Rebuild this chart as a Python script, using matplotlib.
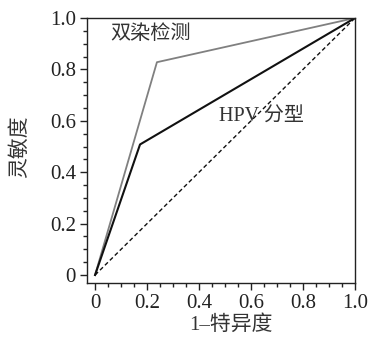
import matplotlib
matplotlib.use("Agg")
import matplotlib.pyplot as plt
from matplotlib.ticker import MultipleLocator, FixedLocator

plt.rcParams['font.family'] = ['Liberation Serif', 'Noto Sans CJK SC']

# data
fpr_dual = [0.0, 0.238, 1.0]
tpr_dual = [0.0, 0.828, 1.0]
fpr_hpv = [0.0, 0.173, 1.0]
tpr_hpv = [0.0, 0.508, 1.0]
ref_x = [0.0, 1.0]
ref_y = [0.0, 1.0]
ticks = [0, 0.2, 0.4, 0.6, 0.8, 1.0]
tick_labels = ['0', '0.2', '0.4', '0.6', '0.8', '1.0']
label_dual = '双染检测'
label_hpv = 'HPV 分型'
xlabel = '1–特异度'
ylabel = '灵敏度'

W, H = 373, 343
fig = plt.figure(figsize=(W / 100, H / 100), dpi=100)
ax = fig.add_axes([87 / W, (H - 283) / H, 268 / W, 265 / H])

ax.plot(fpr_dual, tpr_dual, color='#808080', lw=1.3)
ax.plot(fpr_hpv, tpr_hpv, color='#111111', lw=1.5)
ax.plot(ref_x, ref_y, color='#111111', lw=1.0, ls=(0, (3, 2)))

ax.set_xlim(-0.031, 1.0)
ax.set_ylim(-0.031, 1.0)
ax.xaxis.set_major_locator(FixedLocator(ticks))
ax.yaxis.set_major_locator(FixedLocator(ticks))
ax.set_xticklabels(tick_labels)
ax.set_yticklabels(tick_labels)
ax.xaxis.set_minor_locator(MultipleLocator(0.05))
ax.yaxis.set_minor_locator(MultipleLocator(0.05))
ax.tick_params(which='major', direction='out', length=5, width=1.0, labelsize=15,
               colors='#222222', pad=3)
ax.tick_params(which='minor', direction='out', length=3, width=1.0, colors='#222222')
for s in ax.spines.values():
    s.set_linewidth(1.0)
    s.set_color('#222222')

ax.text(0.058, 0.934, label_dual, fontsize=14.5, color='#333333', va='center', ha='left')
ax.text(0.477, 0.615, label_hpv, fontsize=14.5, color='#333333', va='center', ha='left')

fig.text(231 / W, 1 - 325 / H, xlabel, fontsize=15, color='#333333', ha='center', va='center')
fig.text(20 / W, 1 - 147 / H, ylabel, fontsize=15, color='#333333', ha='center', va='center',
         rotation=90)

fig.savefig('out.png', dpi=100)
